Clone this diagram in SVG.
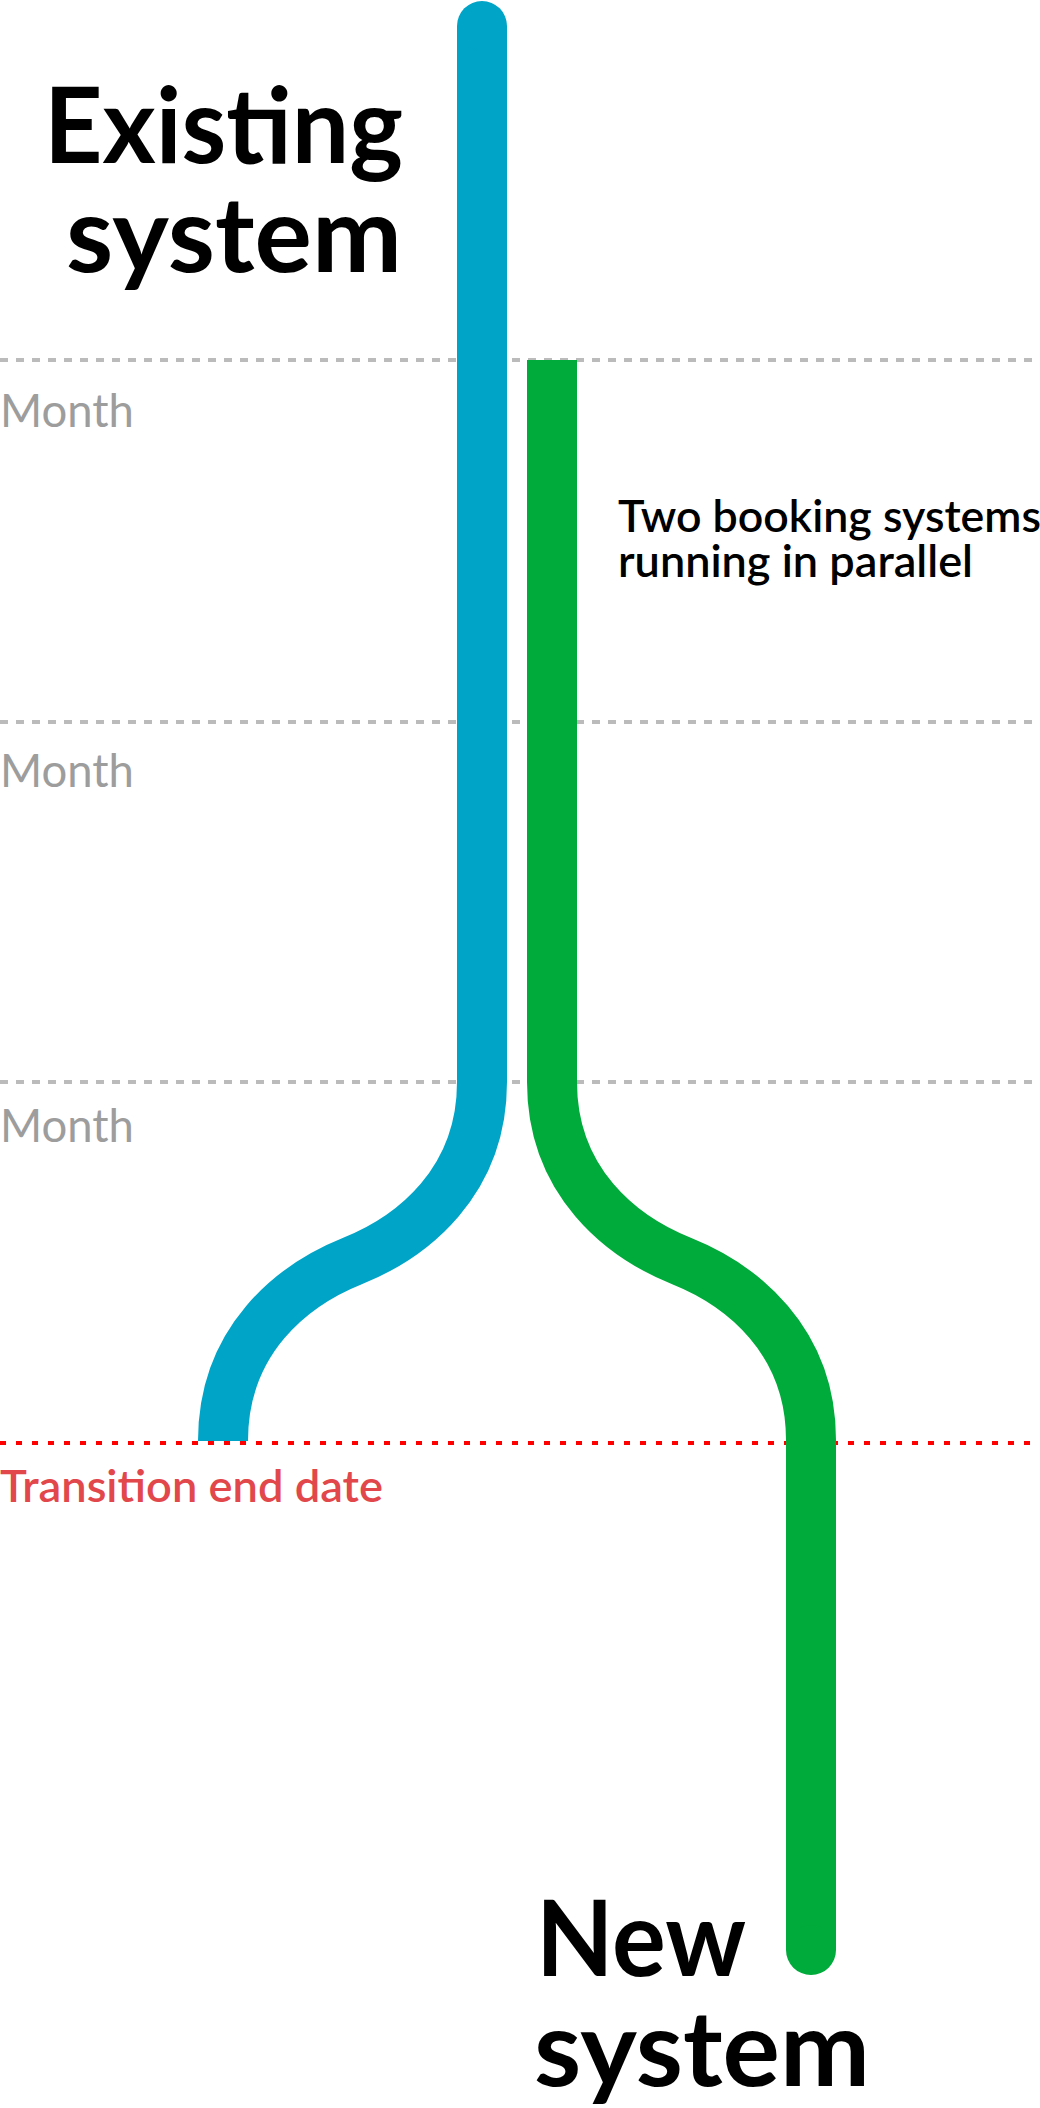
<svg xmlns="http://www.w3.org/2000/svg" width="1040" height="2108" viewBox="0 0 1040 2108">
  <style>
    .grid { stroke: #bbbbbb; stroke-width: 4; stroke-dasharray: 8 8; fill: none; }
    .deadline { stroke: #ff0000; stroke-width: 4; stroke-dasharray: 6 10; fill: none; }
    .track { fill: none; stroke-width: 50; stroke-linecap: butt; }
    .blue { stroke: #00a4c7; }
    .green { stroke: #00aa3b; }
    .title { font-family: Lato, "Liberation Sans", sans-serif; font-weight: 700; font-size: 106px; fill: #000000; }
    .month { font-family: Lato, "Liberation Sans", sans-serif; font-weight: 400; font-size: 47px; fill: #9d9d9d; }
    .note { font-family: Lato, "Liberation Sans", sans-serif; font-weight: 600; font-size: 44.5px; fill: #000000; }
    .end { font-family: Lato, "Liberation Sans", sans-serif; font-weight: 600; font-size: 45px; fill: #e2474b; }
  </style>
  <rect width="1040" height="2108" fill="#ffffff"/>
  <g id="timeline">
    <line class="grid" x1="0" y1="360" x2="1040" y2="360"/>
    <line class="grid" x1="0" y1="722" x2="1040" y2="722"/>
    <line class="grid" x1="0" y1="1082" x2="1040" y2="1082"/>
    <line class="deadline" x1="0" y1="1443" x2="1040" y2="1443"/>
    <text class="month" x="0" y="427" textLength="134" lengthAdjust="spacingAndGlyphs">Month</text>
    <text class="month" x="0" y="787" textLength="134" lengthAdjust="spacingAndGlyphs">Month</text>
    <text class="month" x="0" y="1142" textLength="134" lengthAdjust="spacingAndGlyphs">Month</text>
    <text class="end" x="0" y="1502" textLength="383" lengthAdjust="spacingAndGlyphs">Transition end date</text>
  </g>
  <g id="connectors">
    <g id="existing-track">
      <path class="track blue" d="M482,26 V1082 C482,1182 412.5,1237 352.5,1261 C292.5,1285 223,1340 223,1441"/>
      <circle cx="482" cy="26" r="25" fill="#00a4c7"/>
    </g>
    <g id="new-track">
      <path class="track green" d="M552,360 V1082 C552,1182 621.5,1237 681.5,1261 C741.5,1285 811,1340 811,1440 V1950"/>
      <circle cx="811" cy="1950" r="25" fill="#00aa3b"/>
    </g>
  </g>
  <g id="existing-system">
    <text class="title"><tspan x="44" y="163" textLength="359" lengthAdjust="spacingAndGlyphs">Existing</tspan><tspan x="66" y="272" textLength="336" lengthAdjust="spacingAndGlyphs">system</tspan></text>
  </g>
  <g id="parallel-note">
    <text class="note"><tspan x="618" y="532" textLength="423" lengthAdjust="spacingAndGlyphs">Two booking systems</tspan><tspan x="618" y="577" textLength="355" lengthAdjust="spacingAndGlyphs">running in parallel</tspan></text>
  </g>
  <g id="new-system">
    <text class="title"><tspan x="536" y="1976" textLength="210" lengthAdjust="spacingAndGlyphs">New</tspan><tspan x="534" y="2086" textLength="336" lengthAdjust="spacingAndGlyphs">system</tspan></text>
  </g>
</svg>
